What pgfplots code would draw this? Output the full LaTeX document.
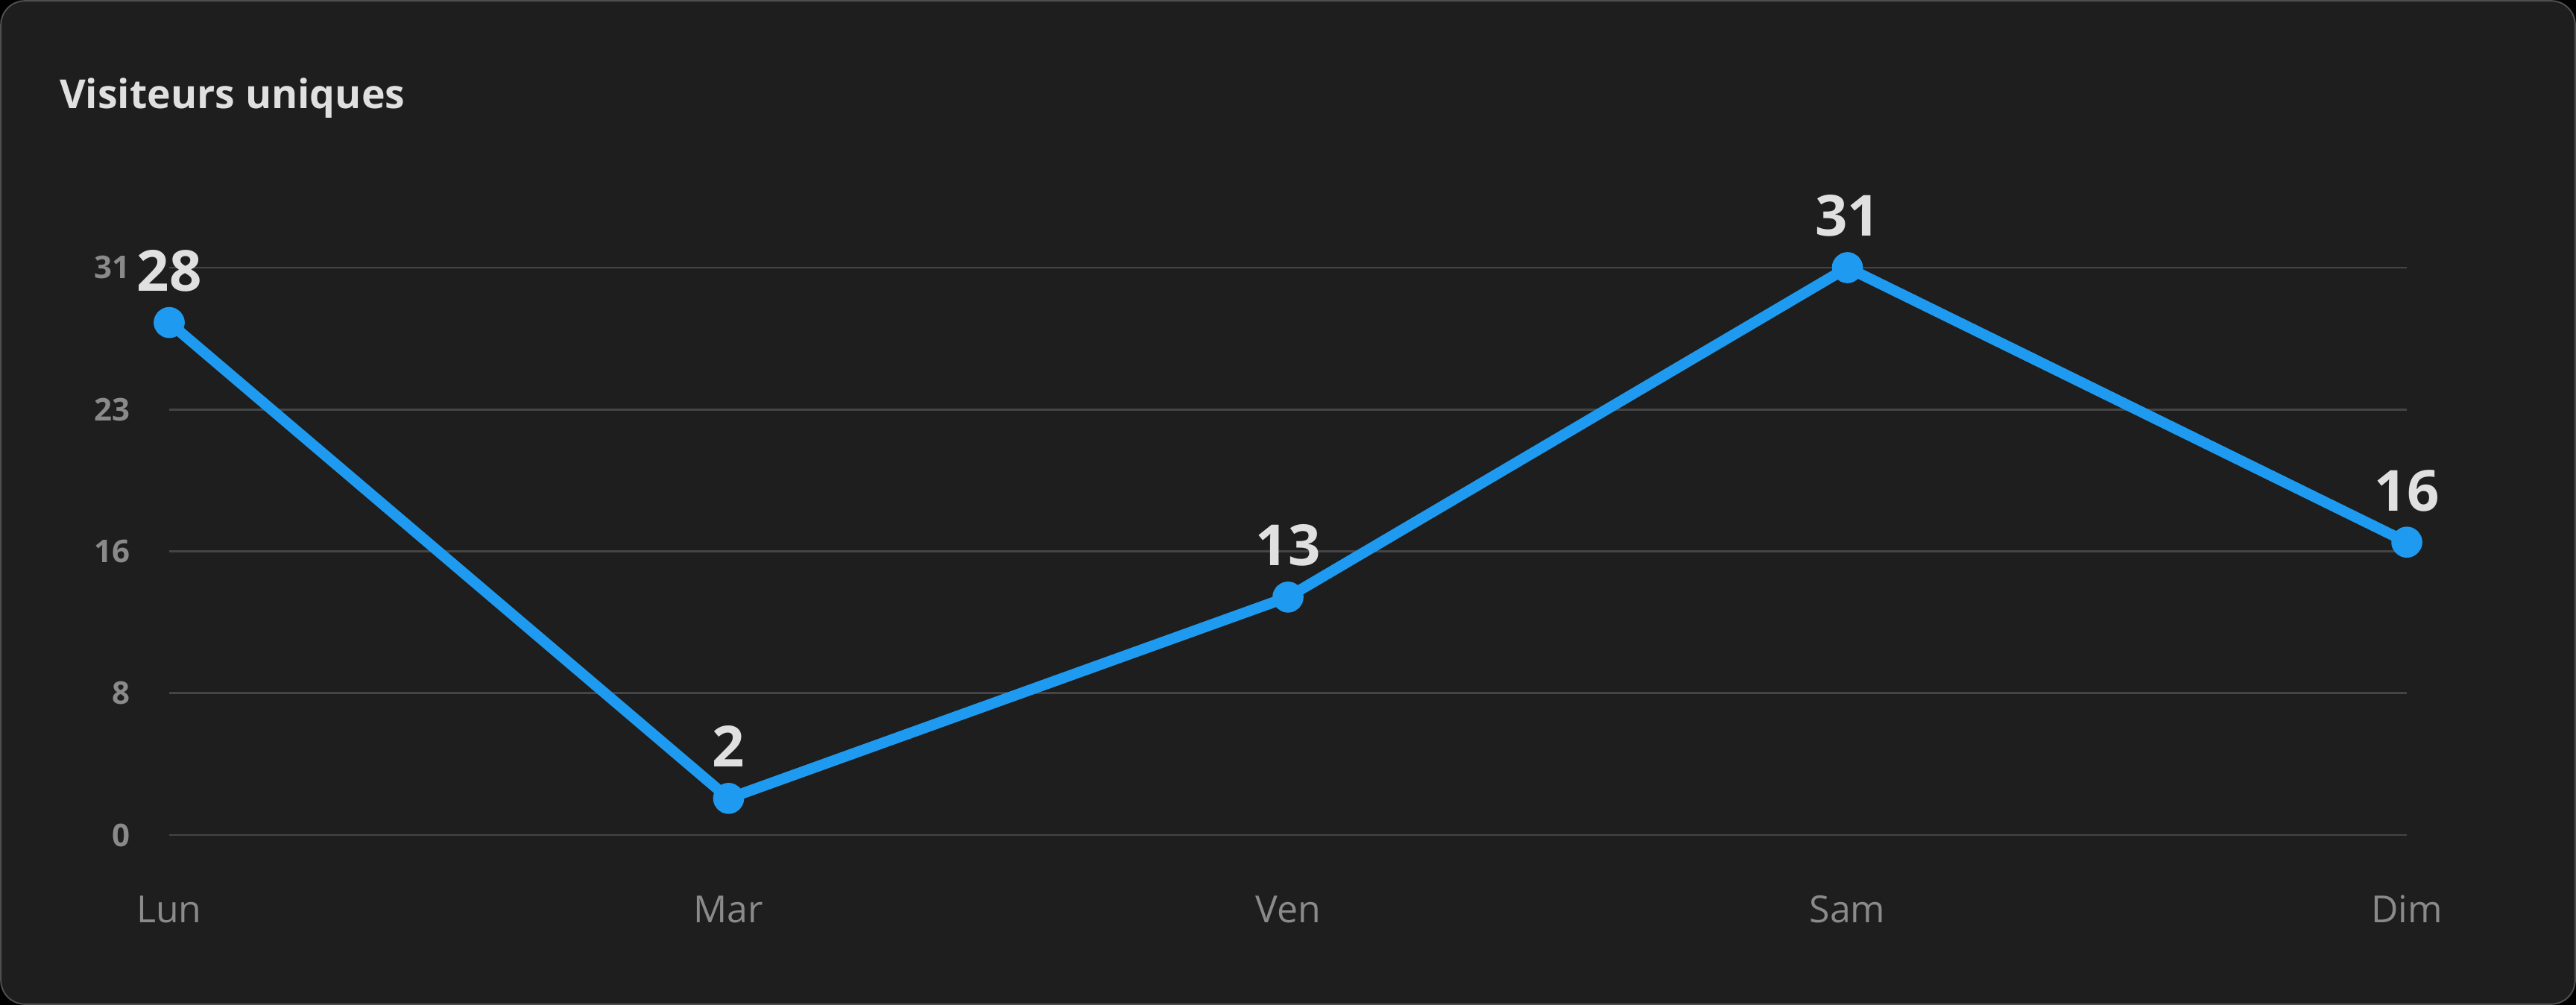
\documentclass[border=0pt]{standalone}
\usepackage{pgfplots}
\pgfplotsset{compat=1.18}
\usepackage{fontspec}
\setmainfont{Open Sans}

\definecolor{outerbg}{HTML}{000000}
\definecolor{cardbg}{HTML}{1E1E1E}
\definecolor{cardline}{HTML}{4E4E4E}
\definecolor{titlecol}{HTML}{E0E0E0}
\definecolor{tickcol}{HTML}{8A8A8A}
\definecolor{gridcol}{HTML}{454545}
\definecolor{linecol}{HTML}{1E9BF0}

\begin{document}
\begin{tikzpicture}
\path[use as bounding box] (0,0) rectangle (864pt,337pt);
\fill[outerbg] (0,0) rectangle (864pt,337pt);
\draw[fill=cardbg, draw=cardline, line width=0.5pt, rounded corners=8pt]
  (0.3pt,0.3pt) rectangle (863.7pt,336.7pt);
\node[anchor=base west, inner sep=0, text=titlecol,
      font=\bfseries\fontsize{13.4}{16}\selectfont] at (19.8pt,300.6pt) {Visiteurs uniques};

\begin{axis}[
    at={(56.75pt,57pt)}, anchor=south west,
    scale only axis,
    width=750.5pt, height=190.25pt,
    xmin=0, xmax=4, ymin=0, ymax=31,
    xtick={0,1,2,3,4},
    xticklabels={Lun,Mar,Ven,Sam,Dim},
    ytick={0,7.75,15.5,23.25,31},
    yticklabels={0,8,16,23,31},
    axis line style={draw=none},
    major tick length=0pt,
    ymajorgrids,
    grid style={gridcol, line width=0.7pt},
    clip=false,
    xticklabel style={anchor=base, inner sep=0, yshift=-29.25pt,
        text=tickcol, font=\fontsize{12.5}{14}\selectfont},
    yticklabel style={anchor=east, inner sep=0, xshift=-13pt,
        text=tickcol, font=\bfseries\fontsize{10.5}{12}\selectfont},
    /pgf/number format/assume math mode=true,
]
\addplot[linecol, line width=3.6pt, line join=round,
    mark=*, mark size=3.4pt, mark options={fill=linecol, draw=none},
    nodes near coords,
    every node near coord/.append style={anchor=base, inner sep=0, yshift=10.5pt,
        text=titlecol, font=\bfseries\fontsize{19}{21}\selectfont}]
coordinates {
    (0,28) (1,2) (2,13) (3,31) (4,16)
};
\end{axis}
\end{tikzpicture}
\end{document}
